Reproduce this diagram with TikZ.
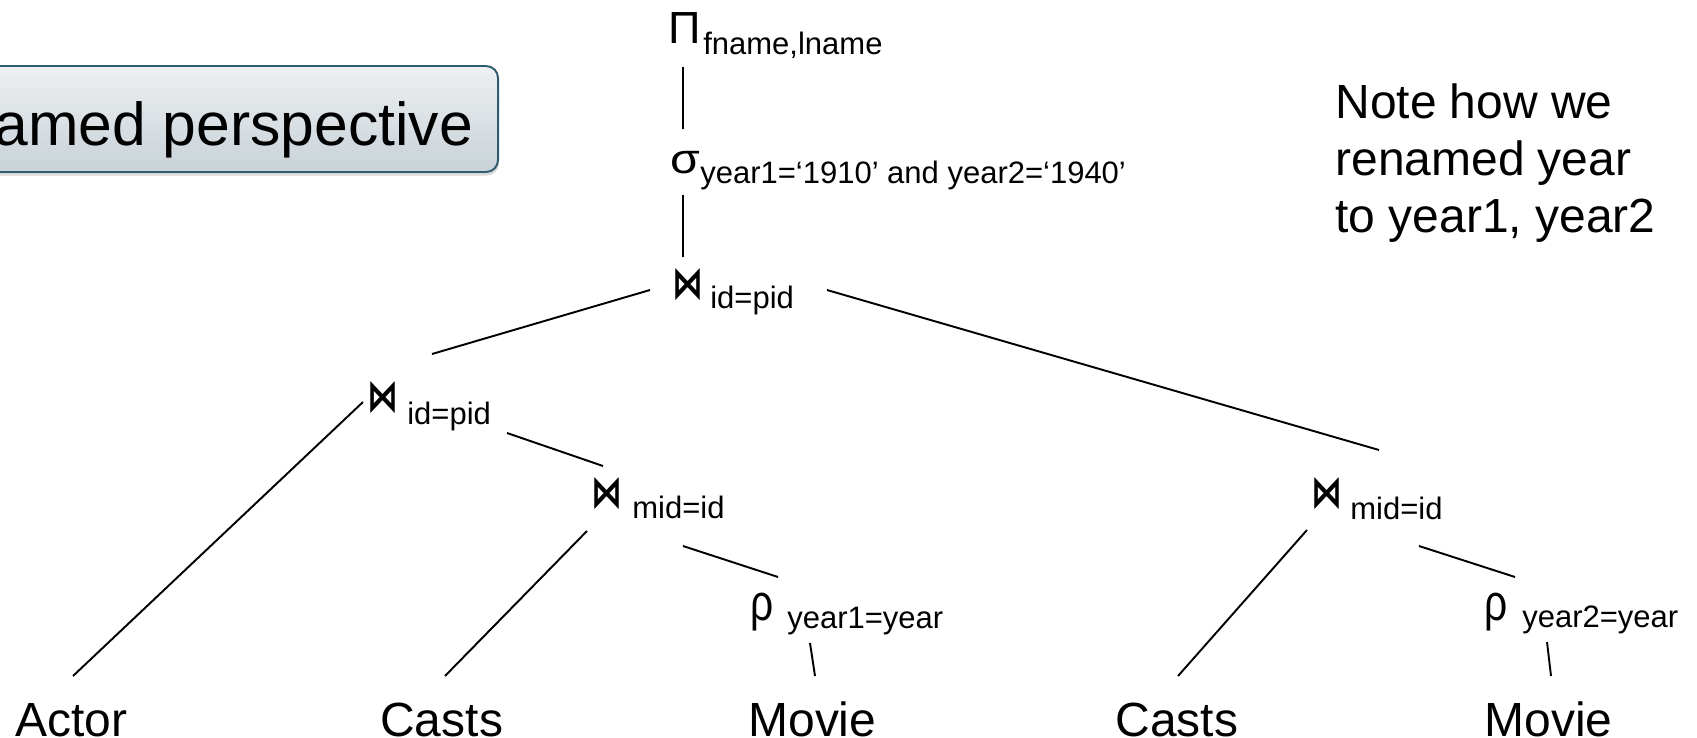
\documentclass[tikz,border=0pt]{standalone}
\usepackage{graphicx}
\usepackage{fontspec}
\setmainfont{Liberation Sans}
\newfontfamily\djv{DejaVu Sans}
\usetikzlibrary{shadows}
\definecolor{boxedge}{HTML}{2F5C6E}
\definecolor{boxtop}{HTML}{EEF0F2}
\definecolor{boxbot}{HTML}{C8D2D8}
% text sizes (1 unit = 0.02cm)
\newcommand\mainsz{\fontsize{27.31pt}{32.44pt}\selectfont}
\newcommand\subsz{\fontsize{17.64pt}{20pt}\selectfont}
% operator symbol in a box of fixed width, followed by a lowered subscript
\newcommand\Op[4]{\makebox[#1][l]{#2}\raisebox{#3}{\subsz #4}}
\newcommand\Jn{\resizebox{0.62cm}{0.6cm}{\djv\bfseries ⋈}}
\newcommand\Rho{\scalebox{0.8}[1]{\fontsize{29pt}{30pt}\selectfont ρ}}
\newcommand\Sig{\scalebox{1.15}[1]{\fontsize{23.9pt}{26pt}\selectfont σ}}
\newcommand\Pro{\fontsize{25.61pt}{28pt}\selectfont Π}
\begin{document}
\begin{tikzpicture}[x=0.02cm,y=-0.02cm,
  lbl/.style={inner sep=0pt, anchor=base west, font=\mainsz},
  op/.style={inner sep=0pt, anchor=base west},
  edge/.style={line width=1.1pt, black},
  titlebox/.style={draw=boxedge, line width=1.1pt, rounded corners=0.24cm,
    top color=boxtop, bottom color=boxbot, inner xsep=0.5cm, inner ysep=0pt,
    text height=1.58cm, text depth=0.54cm, anchor=base east,
    font=\fontsize{34.5pt}{40pt}\selectfont,
    drop shadow={opacity=0.3, shadow xshift=0.5pt, shadow yshift=-2pt}}
]
\useasboundingbox (0,0) rectangle (1697,737);

% heading box, running off the left edge
\node[titlebox] (title) at (499,145) {\hspace*{1.4cm}amed perspective};

% operators
\node[op] (proj) at (668,43) {\Op{0.70cm}{\Pro}{-0.24cm}{fname,lname}};
\node[op] (sel) at (670,173) {\Op{0.60cm}{\Sig}{-0.22cm}{year1=‘1910’ and year2=‘1940’}};
\node[op] (j1) at (672,298) {\Op{0.76cm}{\Jn}{-0.20cm}{id=pid}};
\node[op] (j2) at (367,411) {\Op{0.80cm}{\Jn}{-0.26cm}{id=pid}};
\node[op] (j3) at (591,507) {\Op{0.82cm}{\Jn}{-0.22cm}{mid=id}};
\node[op] (j4) at (1311,507) {\Op{0.78cm}{\Jn}{-0.24cm}{mid=id}};
\node[op] (r1) at (750,620) {\Op{0.74cm}{\Rho}{-0.16cm}{year1=year}};
\node[op] (r2) at (1484,620) {\Op{0.76cm}{\Rho}{-0.14cm}{year2=year}};

% relations
\node[lbl] (actor) at (15,736) {Actor};
\node[lbl] (casts1) at (380,736) {Casts};
\node[lbl] (movie1) at (748,736) {Movie};
\node[lbl] (casts2) at (1115,736) {Casts};
\node[lbl] (movie2) at (1484,736) {Movie};

% side note
\node[lbl] (note1) at (1335,118) {Note how we};
\node[lbl] (note2) at (1335,175) {renamed year};
\node[lbl] (note3) at (1335,232) {to year1, year2};

% tree edges
\draw[edge] ([shift={(15,24)}]proj.base west) -- ([shift={(13,-44)}]sel.base west);
\draw[edge] ([shift={(13,22)}]sel.base west) -- ([shift={(11,-41)}]j1.base west);
\draw[edge] ([shift={(-22,-8)}]j1.base west) -- ([shift={(65,-57)}]j2.base west);
\draw[edge] ([shift={(155,-8)}]j1.base west) -- ([shift={(68,-57)}]j4.base west);
\draw[edge] ([shift={(-4,-9)}]j2.base west) -- ([shift={(58,-60)}]actor.base west);
\draw[edge] ([shift={(140,22)}]j2.base west) -- ([shift={(12,-41)}]j3.base west);
\draw[edge] ([shift={(-4,24)}]j3.base west) -- ([shift={(65,-60)}]casts1.base west);
\draw[edge] ([shift={(92,39)}]j3.base west) -- ([shift={(28,-43)}]r1.base west);
\draw[edge] ([shift={(60,23)}]r1.base west) -- ([shift={(67,-60)}]movie1.base west);
\draw[edge] ([shift={(-4,23)}]j4.base west) -- ([shift={(63,-60)}]casts2.base west);
\draw[edge] ([shift={(108,39)}]j4.base west) -- ([shift={(31,-43)}]r2.base west);
\draw[edge] ([shift={(63,22)}]r2.base west) -- ([shift={(67,-60)}]movie2.base west);
\end{tikzpicture}
\end{document}
